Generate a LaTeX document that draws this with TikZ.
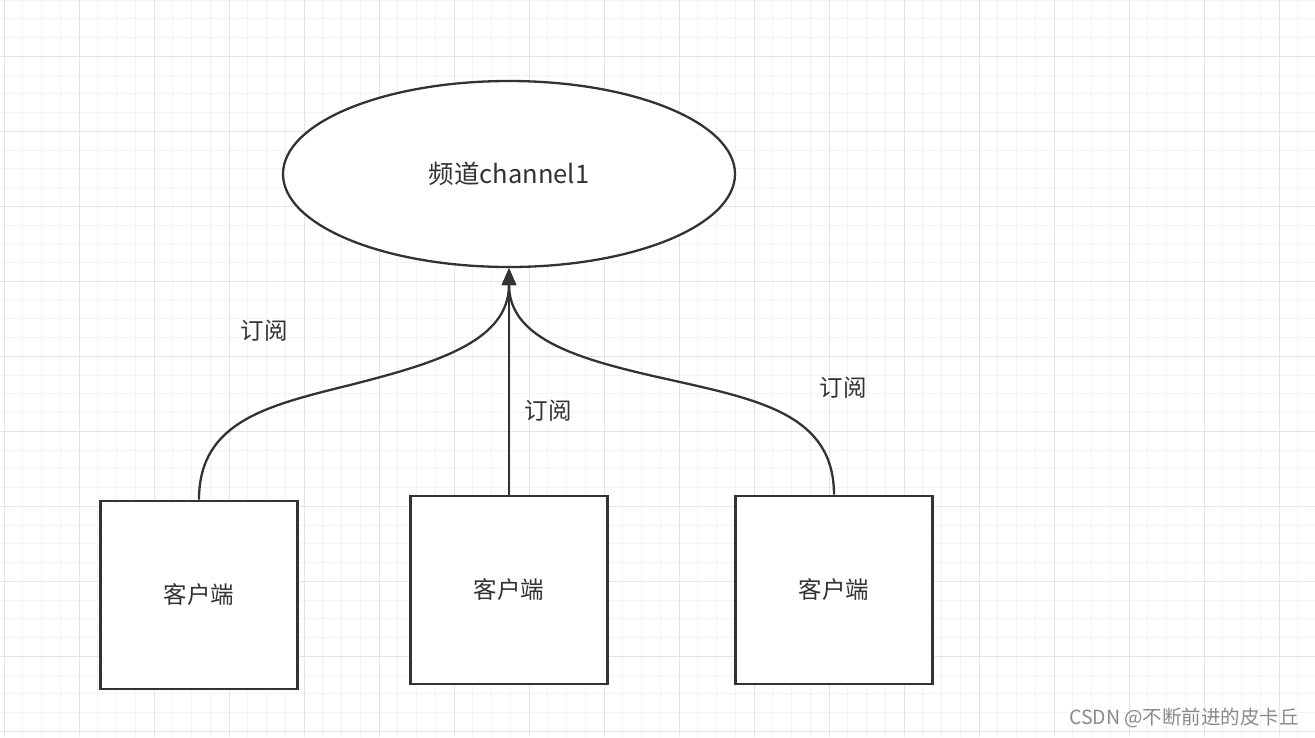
\documentclass[tikz,border=0pt]{standalone}
\usepackage{fontspec}
\setmainfont{Noto Sans CJK SC}
\usetikzlibrary{shapes.geometric, arrows.meta}
\definecolor{inkgray}{HTML}{333333}
\definecolor{gridminor}{HTML}{F3F3F3}
\definecolor{gridmajor}{HTML}{E4E4E4}
\definecolor{markgray}{HTML}{8A8A8A}
\tikzset{
	client/.style={draw=inkgray, line width=2.6pt, fill=white, minimum width=197pt, minimum height=188pt, inner sep=0pt},
	subscribe/.style={draw=inkgray, line width=2.3pt, -{Triangle[length=17pt, width=14pt]}},
	lbl/.style={text=inkgray, font=\fontsize{23.5}{27}\selectfont}
}
\begin{document}
\begin{tikzpicture}[x=1pt, y=-1pt]
		\useasboundingbox (0,0) rectangle (1315,737);
		\fill[white] (0,0) rectangle (1315,737);

		% grid
		\foreach \k in {0,...,70} {
			\draw[gridminor, line width=1pt] (4+18.75*\k, 0) -- (4+18.75*\k, 737);
		}
		\foreach \k in {0,...,39} {
			\draw[gridminor, line width=1pt] (0, 18.75*\k) -- (1315, 18.75*\k);
		}
		\foreach \k in {0,...,17} {
			\draw[gridmajor, line width=1pt] (4+75*\k, 0) -- (4+75*\k, 737);
		}
		\foreach \k in {0,...,9} {
			\draw[gridmajor, line width=1pt] (0, 56.25+75*\k) -- (1315, 56.25+75*\k);
		}

		\node[ellipse, draw=inkgray, line width=2.3pt, fill=white, minimum width=452pt, minimum height=186pt, inner sep=0pt, text=inkgray, font=\fontsize{25.5}{29}\selectfont] (channel) at (509,174) {频道channel1};

		\node[client, lbl] (client1) at (199,595) {客户端};
		\node[client, lbl] (client2) at (509,590) {客户端};
		\node[client, lbl] (client3) at (834,590) {客户端};

		\node[lbl] (sub1) at (264,331) {订阅};
		\node[lbl] (sub2) at (548,411) {订阅};
		\node[lbl] (sub3) at (843,388) {订阅};

		\draw[subscribe] (client1.north) .. controls (199,420) and (270,405) .. (354,384) .. controls (440,362) and (509,340) .. (channel.south);
		\draw[subscribe] (client3.north) .. controls (834,415) and (760,400) .. (671,380) .. controls (580,360) and (509,340) .. (channel.south);
		\draw[subscribe] (client2.north) -- (channel.south);

		\node[text=markgray, font=\fontsize{19.5}{22}\selectfont] (mark) at (1184,718) {CSDN @不断前进的皮卡丘};
	\end{tikzpicture}
\end{document}
